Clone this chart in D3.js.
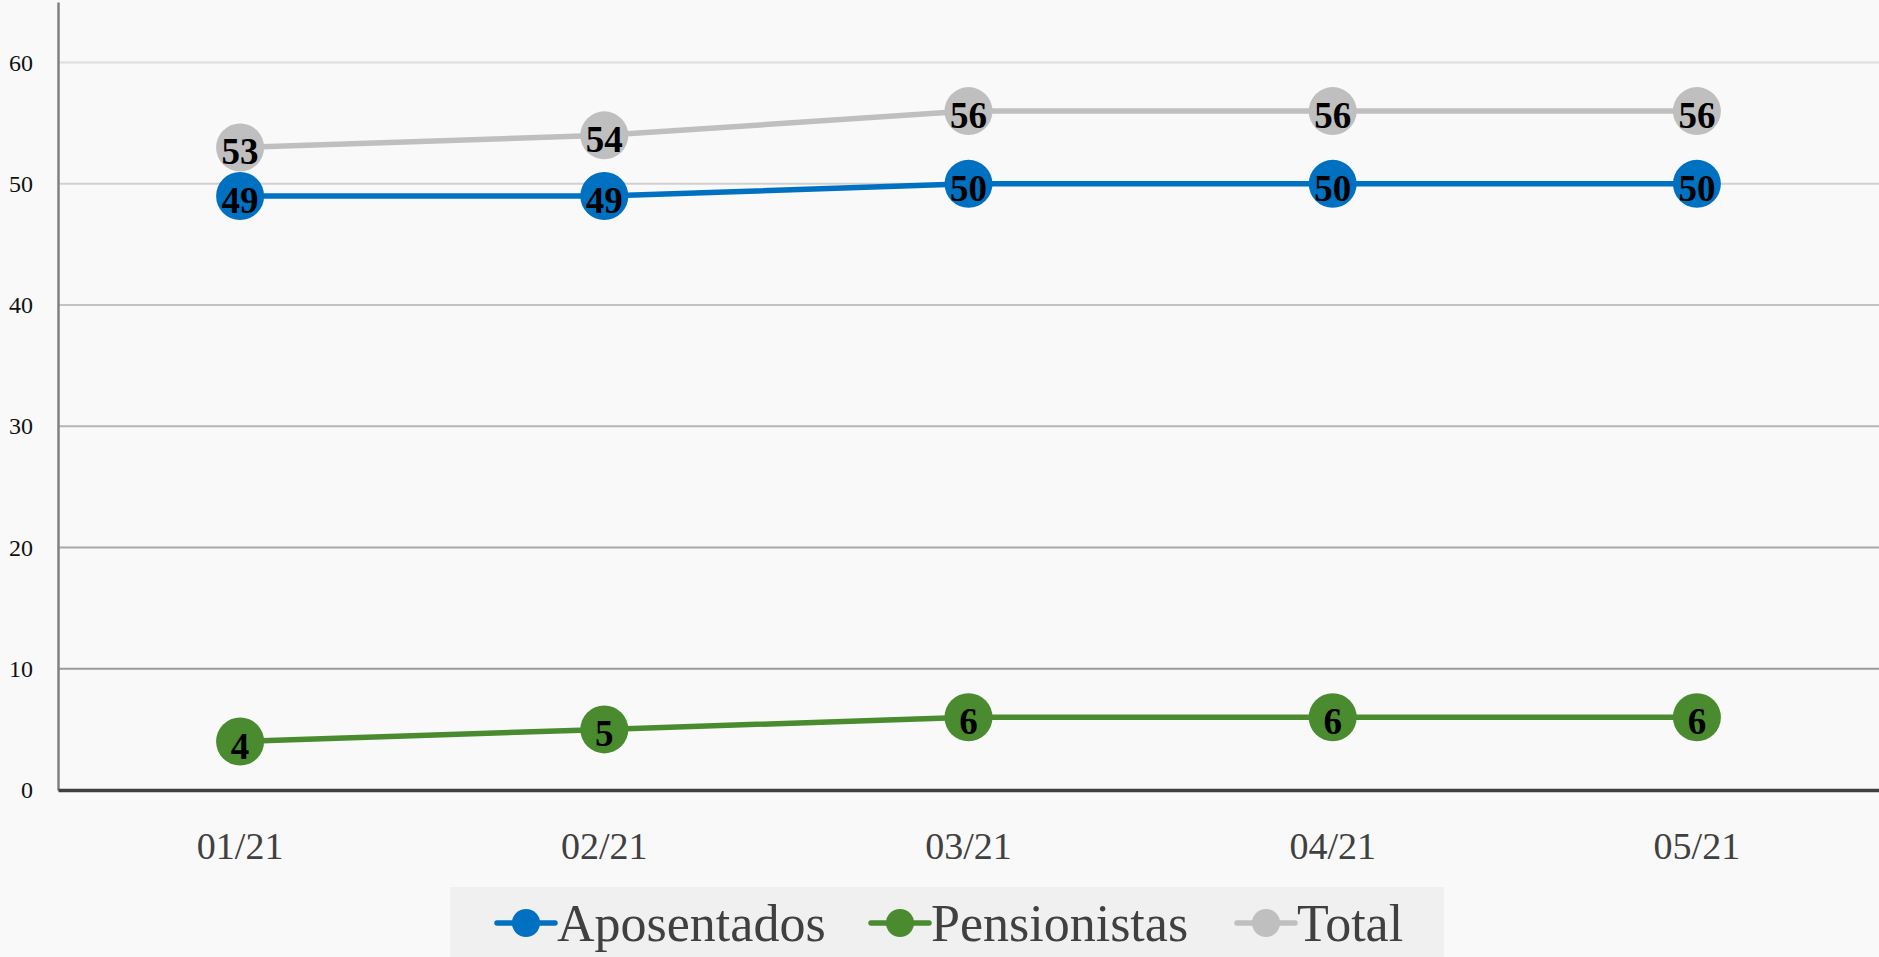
<!DOCTYPE html>
<html><head><meta charset="utf-8">
<script src="https://cdn.jsdelivr.net/npm/d3@7"></script>
<style>
html,body{margin:0;padding:0;background:#f9f9f9;}
svg{display:block;}
</style></head>
<body>
<svg id="chart" width="1879" height="957"></svg>
<script>
const categories = ["01/21","02/21","03/21","04/21","05/21"];
const aposentados = [49,49,50,50,50];
const pensionistas = [4,5,6,6,6];
const total = [53,54,56,56,56];
const yTicks = [0,10,20,30,40,50,60];
const seriesNames = ["Aposentados","Pensionistas","Total"];
const seriesColors = ["#0070C0","#4A8B2F","#BFBFBF"];

const series = [
  {name: seriesNames[0], values: aposentados, color: seriesColors[0]},
  {name: seriesNames[1], values: pensionistas, color: seriesColors[1]},
  {name: seriesNames[2], values: total, color: seriesColors[2]}
];
const drawOrder = [series[1], series[2], series[0]];

const W = 1879, H = 957;
const mLeft = 58, mRight = 1879, mBottom = 790, mTop = 2;
const svg = d3.select("#chart");
svg.append("rect").attr("width",W).attr("height",H).attr("fill","#f9f9f9");

const x = d3.scaleBand().domain(categories).range([mLeft,mRight]);
const y = d3.scaleLinear().domain([0,65]).range([mBottom,mTop]);
const gridColor = d3.scaleLinear().domain([10,60]).range(["#9a9a9a","#dedede"]);

// gridlines
svg.append("g").selectAll("line").data(yTicks.filter(d=>d>0)).join("line")
  .attr("x1",mLeft).attr("x2",mRight)
  .attr("y1",d=>y(d)).attr("y2",d=>y(d))
  .attr("stroke",d=>gridColor(d)).attr("stroke-width",2);

// y axis
const yAxis = svg.append("g").attr("transform",`translate(${mLeft},0)`)
  .call(d3.axisLeft(y).tickValues(yTicks).tickSize(0).tickPadding(25));
yAxis.select(".domain").attr("stroke","#808080").attr("stroke-width",2.5);
yAxis.selectAll("text").attr("font-family","Liberation Serif, serif")
  .attr("font-size",24).attr("fill","#111");

// x axis
const xAxis = svg.append("g").attr("transform",`translate(0,${mBottom})`)
  .call(d3.axisBottom(x).tickSize(0).tickPadding(42));
xAxis.select(".domain").attr("stroke","#404040").attr("stroke-width",3.5);
xAxis.selectAll("text").attr("font-family","Liberation Serif, serif")
  .attr("font-size",38).attr("fill","#404040");

const line = d3.line().x((d,i)=>x(categories[i])+x.bandwidth()/2).y(d=>y(d));

drawOrder.forEach(s=>{
  const g = svg.append("g");
  g.append("path").datum(s.values).attr("d",line)
    .attr("fill","none").attr("stroke",s.color).attr("stroke-width",5.5);
  g.selectAll("circle").data(s.values).join("circle")
    .attr("cx",(d,i)=>x(categories[i])+x.bandwidth()/2).attr("cy",d=>y(d))
    .attr("r",24).attr("fill",s.color);
  g.selectAll("text").data(s.values).join("text")
    .attr("x",(d,i)=>x(categories[i])+x.bandwidth()/2).attr("y",d=>y(d)+17)
    .attr("text-anchor","middle").attr("font-family","Liberation Serif, serif")
    .attr("font-weight","bold").attr("font-size",37).attr("fill","#000")
    .text(d=>d);
});

// legend
const lg = svg.append("g");
lg.append("rect").attr("x",450).attr("y",887).attr("width",994).attr("height",70).attr("fill","#f0f0f0");
const legendX = [497, 871, 1237];
series.forEach((s,i)=>{
  const gx = legendX[i], cy = 923;
  lg.append("line").attr("x1",gx).attr("x2",gx+58).attr("y1",cy).attr("y2",cy)
    .attr("stroke",s.color).attr("stroke-width",5.5).attr("stroke-linecap","round");
  lg.append("circle").attr("cx",gx+29).attr("cy",cy).attr("r",14).attr("fill",s.color);
  lg.append("text").attr("x",gx+60).attr("y",941)
    .attr("font-family","Liberation Serif, serif").attr("font-size",52)
    .attr("fill","#404040").text(s.name);
});
</script>
</body></html>
